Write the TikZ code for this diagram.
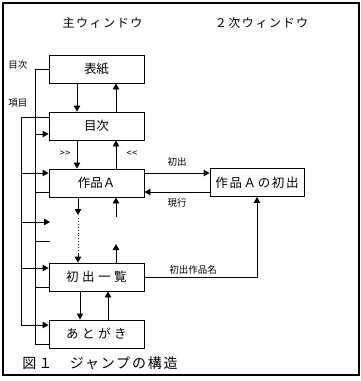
\documentclass[tikz,border=0pt]{standalone}
\usepackage{fontspec}
\setmainfont{Noto Sans CJK JP}
\newfontfamily\jwide[LetterSpace=28]{Noto Sans CJK JP}
\newfontfamily\jspaced[LetterSpace=13]{Noto Sans CJK JP}
\usetikzlibrary{arrows.meta}

\begin{document}
\begin{tikzpicture}[x=1pt,y=-1pt,line width=0.9pt,
  box/.style={draw,minimum width=95pt,minimum height=28pt,inner sep=0pt,
    font=\fontsize{12.5}{14}\selectfont},
  lbl/.style={inner sep=0pt,font=\fontsize{9.5}{11}\selectfont},
  ttl/.style={inner sep=0pt,font=\jspaced\fontsize{12}{14}\selectfont},
  arr/.style={-{Triangle[length=6pt,width=6.5pt]}}]

  \useasboundingbox (0,0) rectangle (361,381);

  % kader
  \draw[line width=1.5pt] (3,3) rectangle (359,375);

  % titels
  \node[ttl] (shu) at (102.5,23) {主ウィンドウ};
  \node[ttl] (niji) at (261.5,23) {２次ウィンドウ};

  % vensters
  \node[box] (hyoshi) at (96.5,69) {表紙};
  \node[box] (mokuji) at (96.5,126) {目次};
  \node[box] (sakuhin) at (96.5,183) {作品Ａ};
  \node[box,font=\jwide\fontsize{12.5}{14}\selectfont] (ichiran) at (96.5,277) {初出一覧};
  \node[box,font=\jwide\fontsize{12.5}{14}\selectfont] (atogaki) at (96.5,334) {あとがき};
  \node[box,minimum width=94pt,font=\jspaced\fontsize{12.5}{14}\selectfont] (shoshutsu)
    at (257,182.5) {作品Ａの初出};

  % vrije eindpunten
  \coordinate (dnA) at (78,215);
  \coordinate (dnB) at (78,218);
  \coordinate (dnC) at (78,253);
  \coordinate (upA) at (116,217);
  \coordinate (upB) at (116,244);
  \coordinate (stubA) at (50,222);
  \coordinate (stubB) at (50,241);

  % verticale pijlen
  \draw[arr] (hyoshi.south -| 77,0) -- (mokuji.north -| 77,0);
  \draw[arr] (mokuji.north -| 116,0) -- (hyoshi.south -| 116,0);
  \draw[arr] (mokuji.south -| 77,0) -- (sakuhin.north -| 77,0);
  \draw[arr] (sakuhin.north -| 116,0) -- (mokuji.south -| 116,0);
  \node[lbl] (fwd) at (65,154) {{>}{>}};
  \node[lbl] (bwd) at (132,154) {{<}{<}};

  \draw[arr] (sakuhin.south -| 78,0) -- (dnA);
  \draw[dotted] (dnB) -- (dnC);
  \draw[arr] (dnC) -- (ichiran.north -| 78,0);
  \draw[arr] (upA) -- (sakuhin.south -| 116,0);
  \draw[arr] (ichiran.north -| 116,0) -- (upB);

  \draw[arr] (ichiran.south -| 80,0) -- (atogaki.north -| 80,0);
  \draw[arr] (atogaki.north -| 108,0) -- (ichiran.south -| 108,0);

  % 2 venster
  \draw[arr] (sakuhin.east |- 0,173) -- (shoshutsu.west |- 0,173)
    node[lbl,midway,above=6pt] (lblA) {初出};
  \draw[arr] (shoshutsu.west |- 0,192) -- (sakuhin.east |- 0,192)
    node[lbl,midway,below=6pt] (lblB) {現行};
  \draw[arr] (ichiran.east) -| (shoshutsu.south -| 257,0);
  \node[lbl] (lblC) at (193,270) {初出作品名};

  % linker lijnen
  \node[lbl] (lblD) at (18,65) {目次};
  \node[lbl] (lblE) at (18,103) {項目};

  \draw (hyoshi.west) -- (35,69) -- (35,344) -- (atogaki.west |- 0,344);
  \draw[arr] (35,134) -- (mokuji.west |- 0,134);
  \draw (35,192) -- (sakuhin.west |- 0,192);
  \draw (35,241) -- (stubB);
  \draw (35,287) -- (ichiran.west |- 0,287);

  \draw[arr] (mokuji.west |- 0,117) -- (21,117) -- (21,325) -- (atogaki.west |- 0,325);
  \draw[arr] (21,173) -- (sakuhin.west |- 0,173);
  \draw[arr] (21,222) -- (stubA);
  \draw[arr] (21,268) -- (ichiran.west |- 0,268);

  % onderschrift
  \node[anchor=west,inner sep=0pt,font=\jspaced\fontsize{14}{16}\selectfont] (zu)
    at (22,363) {図１　ジャンプの構造};

\end{tikzpicture}
\end{document}
